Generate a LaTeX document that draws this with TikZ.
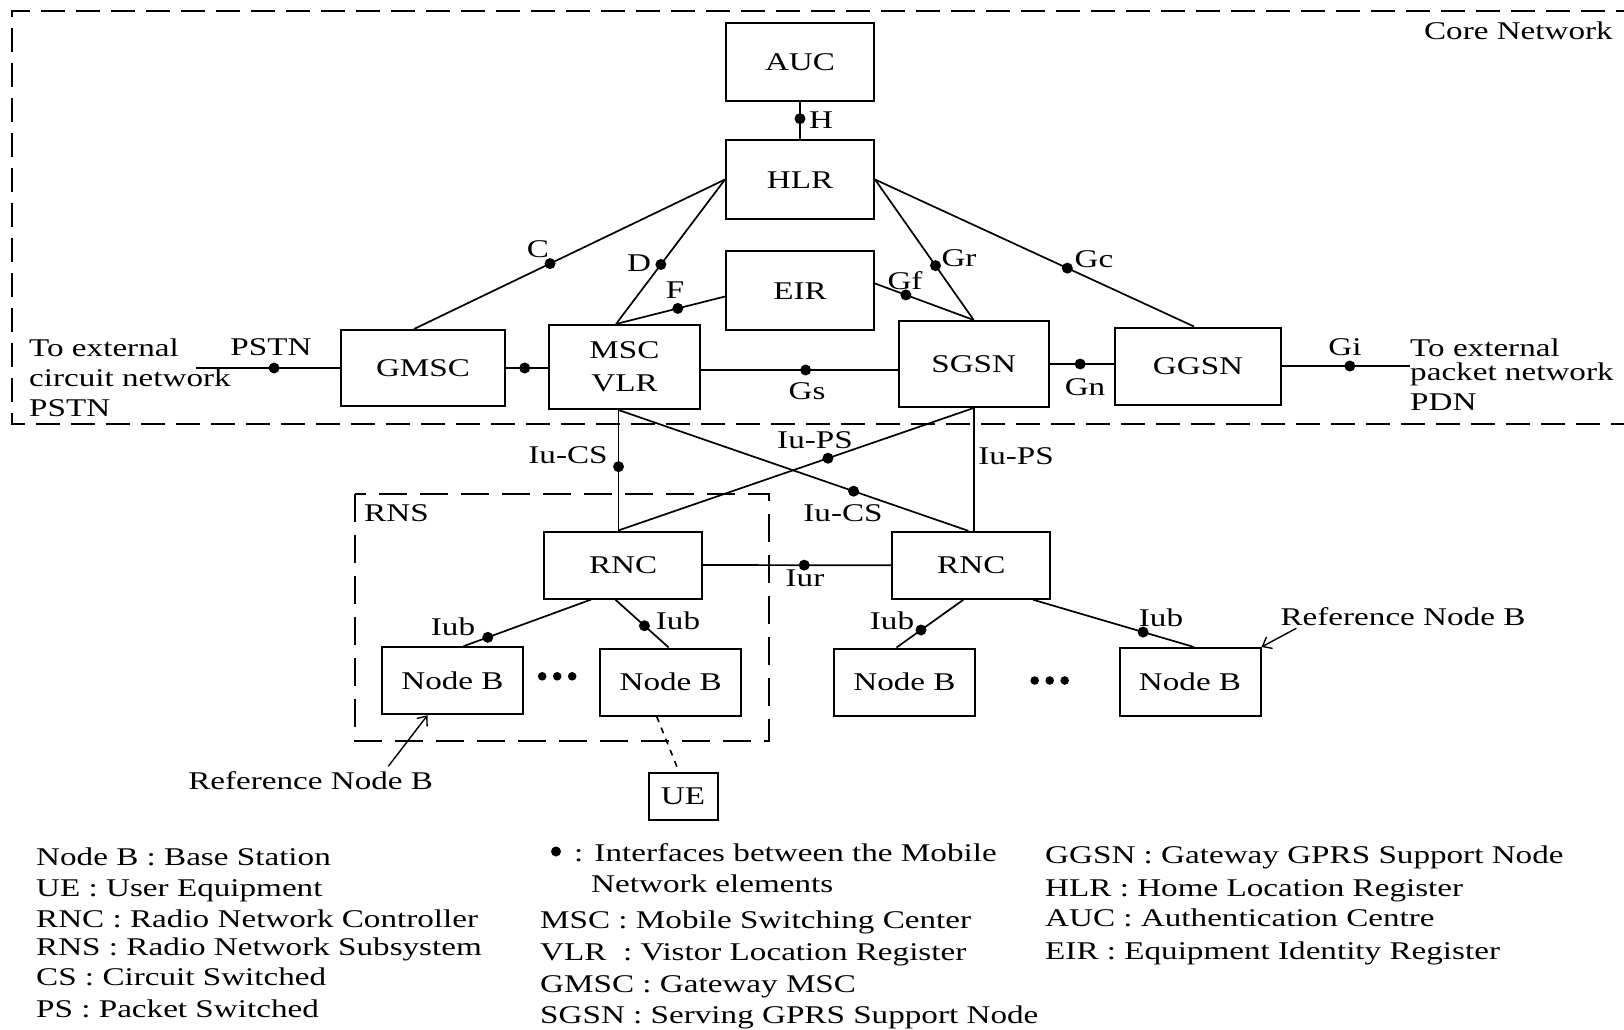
\documentclass[tikz,border=0pt]{standalone}
\usepackage{fontspec}
\setmainfont{Liberation Serif}[FakeStretch=1.3]
\usetikzlibrary{arrows.meta,calc}

\begin{document}
\begin{tikzpicture}[x=1pt,y=-1pt,
  every node/.style={font=\fontsize{25.5pt}{30pt}\selectfont},
  box/.style={draw, line width=2pt, inner sep=0pt, text height=17pt, text depth=0pt},
  lbl/.style={inner sep=0pt, text height=17pt, text depth=0pt},
  link/.style={line width=1.7pt},
  ifc/.style={circle, fill, inner sep=0pt, minimum size=11pt},
  zone/.style={line width=2pt, dash pattern=on 24pt off 11pt},
  radio/.style={line width=2pt, dash pattern=on 28pt off 13pt},
  air/.style={line width=1.6pt, dash pattern=on 6pt off 6pt},
  refarrow/.style={line width=1.4pt, -{Straight Barb[length=8pt,width=13pt]}}
]
\useasboundingbox[fill=white] (0,0) rectangle (1624,1029);

% core network and radio network subsystem areas
\draw[zone] (1640,11) -- (11.5,11) -- (11.5,423.5) -- (1640,423.5);
\node[lbl, anchor=east] (corelbl) at (1613,31) {Core Network};
\draw[radio] (354.6,494.3) rectangle (769.4,741);
\node[lbl, anchor=west] (rnslbl) at (364,513) {RNS};

% network elements
\node[box, minimum width=148pt, minimum height=78pt] (AUC) at (800,62) {AUC};
\node[box, minimum width=148pt, minimum height=79pt] (HLR) at (800,179.5) {HLR};
\node[box, minimum width=148pt, minimum height=79pt] (EIR) at (800,290.5) {EIR};
\node[box, minimum width=164pt, minimum height=76pt] (GMSC) at (423,368) {GMSC};
\node[draw, line width=2pt, inner sep=0pt, minimum width=151pt, minimum height=84pt,
      align=center, font=\fontsize{25.5pt}{33pt}\selectfont] (MSC) at (624.5,367) {MSC\\VLR};
\node[box, minimum width=150pt, minimum height=86pt] (SGSN) at (973.7,364) {SGSN};
\node[box, minimum width=166pt, minimum height=77pt] (GGSN) at (1198,366) {GGSN};
\node[box, minimum width=158pt, minimum height=67pt] (RNC1) at (623.2,565) {RNC};
\node[box, minimum width=158pt, minimum height=67pt] (RNC2) at (971.3,565.3) {RNC};
\node[box, minimum width=141pt, minimum height=67pt] (NB1) at (452.5,680.7) {Node B};
\node[box, minimum width=141pt, minimum height=67pt] (NB2) at (670.7,682) {Node B};
\node[box, minimum width=141pt, minimum height=67pt] (NB3) at (904.5,682) {Node B};
\node[box, minimum width=141pt, minimum height=68pt] (NB4) at (1190,682) {Node B};
\node[box, minimum width=69pt, minimum height=47pt] (UE) at (683,796.4) {UE};

% helper points
\coordinate (pstnEnd) at (195.7,368);
\coordinate (pdnEnd) at (1410,366);
\coordinate (gsA) at ([yshift=-3pt]MSC.east);
\coordinate (mscS) at ([xshift=-6pt]MSC.south);

% interfaces
\draw[link] (AUC.south) -- node[ifc, pos=0.45] (dH) {} (HLR.north);
\draw[link] (HLR.west) -- node[ifc, pos=0.5625] (dC) {} ([xshift=-9pt]GMSC.north);
\draw[link] (HLR.west) -- node[ifc, pos=0.588] (dD) {} ([xshift=-8.5pt]MSC.north);
\draw[link] ([yshift=-6pt]EIR.west) -- node[ifc, pos=0.433] (dF) {} ([xshift=-8.5pt]MSC.north);
\draw[link] (HLR.east) -- node[ifc, pos=0.613] (dGr) {} (SGSN.north);
\draw[link] (HLR.east) -- node[ifc, pos=0.603] (dGc) {} ([xshift=-4pt]GGSN.north);
\draw[link] ([yshift=7pt]EIR.east) -- node[ifc, pos=0.313] (dGf) {} (SGSN.north);
\draw[link] (gsA) -- node[ifc, pos=0.532] (dGs) {} (gsA -| SGSN.west);
\draw[link] (GMSC.east) -- node[ifc, pos=0.445] (dE) {} (GMSC.east -| MSC.west);
\draw[link] (pstnEnd) -- node[ifc, pos=0.543] (dPSTN) {} (GMSC.west);
\draw[link] (SGSN.east) -- node[ifc, pos=0.474] (dGn) {} (SGSN.east -| GGSN.west);
\draw[link] (GGSN.east) -- node[ifc, pos=0.53] (dGi) {} (pdnEnd);
\draw[link] (mscS) -- node[ifc, pos=0.47] (dIuCS1) {} (mscS |- RNC1.north);
\draw[link] (mscS) -- node[ifc, pos=0.672] (dIuCS2) {} ([xshift=-3pt]RNC2.north);
\draw[link] (SGSN.south) -- node[ifc, pos=0.41] (dIuPS1) {} ([xshift=-5pt]RNC1.north);
\draw[link] (SGSN.south) -- (SGSN.south |- RNC2.north);
\draw[link] (RNC1.east) -- node[ifc, pos=0.537] (dIur) {} (RNC2.west);
\draw[link] ([xshift=-32pt]RNC1.south) -- node[ifc, pos=0.81] (dIub1) {} ([xshift=11pt]NB1.north);
\draw[link] ([xshift=-8pt]RNC1.south) -- node[ifc, pos=0.546] (dIub2) {} ([xshift=-2pt]NB2.north);
\draw[link] ([xshift=-8pt]RNC2.south) -- node[ifc, pos=0.633] (dIub3) {} ([xshift=-8pt]NB3.north);
\draw[link] ([xshift=62pt]RNC2.south) -- node[ifc, pos=0.683] (dIub4) {} ([xshift=4pt]NB4.north);
\draw[air] ([xshift=-14pt]NB2.south) -- ([xshift=-4pt]UE.north);

% interface names
\node[lbl] at (821,120) {H};
\node[lbl] at (538,248.5) {C};
\node[lbl] at (639,263) {D};
\node[lbl] at (675,290) {F};
\node[lbl] at (959,258) {Gr};
\node[lbl] at (1094,259) {Gc};
\node[lbl] at (905,280.5) {Gf};
\node[lbl] at (807,391) {Gs};
\node[lbl] at (271,347) {PSTN};
\node[lbl] at (1085,386.5) {Gn};
\node[lbl] at (1345,346.5) {Gi};
\node[lbl] at (568,455) {Iu-CS};
\node[lbl] at (815,439.5) {Iu-PS};
\node[lbl] at (1016,456) {Iu-PS};
\node[lbl] at (843,513) {Iu-CS};
\node[lbl] at (805,578) {Iur};
\node[lbl] at (453,626.5) {Iub};
\node[lbl] at (678,621) {Iub};
\node[lbl] at (892,621) {Iub};
\node[lbl] at (1161,618.3) {Iub};

% external networks
\node[lbl, anchor=west] at (29,348) {To external};
\node[lbl, anchor=west] at (29,378) {circuit network};
\node[lbl, anchor=west] at (29,407.5) {PSTN};
\node[lbl, anchor=west] at (1410,348) {To external};
\node[lbl, anchor=west] at (1410,371.8) {packet network};
\node[lbl, anchor=west] at (1410,402) {PDN};

% further Node Bs
\foreach \dx in {-15,0,15} {
  \fill (557.2+\dx,676.3) circle[radius=4.3pt];
  \fill (1049.7+\dx,680.5) circle[radius=4.3pt];
}

% reference Node B markers
\node[lbl] (refL) at (310.7,781) {Reference Node B};
\draw[refarrow] ([xshift=-45pt,yshift=6pt]refL.north east) -- ([xshift=-25pt]NB1.south);
\node[lbl] (refR) at (1403,616.5) {Reference Node B};
\draw[refarrow] ([xshift=16pt,yshift=-3pt]refR.south west) -- (NB4.north east);

% legend
\node[lbl, anchor=west] at (36,856.5) {Node B : Base Station};
\node[lbl, anchor=west] at (36,887.5) {UE : User Equipment};
\node[lbl, anchor=west] at (36,919) {RNC : Radio Network Controller};
\node[lbl, anchor=west] at (36,946.5) {RNS : Radio Network Subsystem};
\node[lbl, anchor=west] at (36,977) {CS : Circuit Switched};
\node[lbl, anchor=west] at (36,1008.5) {PS : Packet Switched};

\node[ifc, minimum size=10pt] (legdot) at (556,851.5) {};
\node[lbl, anchor=west] at (574,852.5) {: Interfaces between the Mobile};
\node[lbl, anchor=west] at (591,884) {Network elements};
\node[lbl, anchor=west] at (540,920) {MSC : Mobile Switching Center};
\node[lbl, anchor=west] at (540,951.7) {VLR~ : Vistor Location Register};
\node[lbl, anchor=west] at (540,983.5) {GMSC : Gateway MSC};
\node[lbl, anchor=west] at (540,1014.5) {SGSN : Serving GPRS Support Node};

\node[lbl, anchor=west] at (1045,855) {GGSN : Gateway GPRS Support Node};
\node[lbl, anchor=west] at (1045,887.5) {HLR : Home Location Register};
\node[lbl, anchor=west] at (1045,918) {AUC : Authentication Centre};
\node[lbl, anchor=west] at (1045,950.5) {EIR : Equipment Identity Register};
\end{tikzpicture}
\end{document}
